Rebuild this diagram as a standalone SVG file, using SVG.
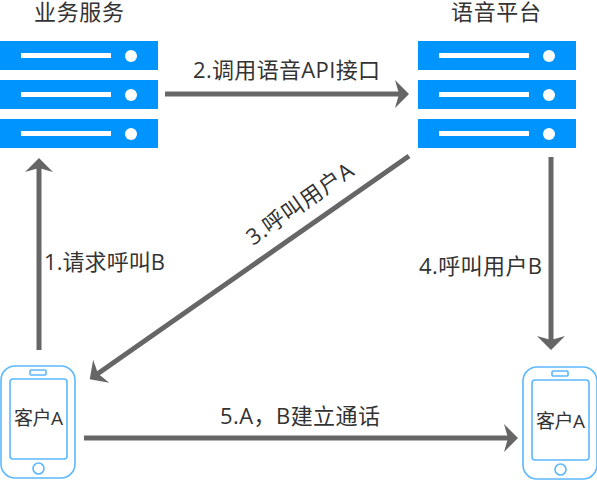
<svg xmlns="http://www.w3.org/2000/svg" width="597" height="480" viewBox="0 0 597 480">
<style>
.t{font-family:"Open Sans","Noto Sans CJK SC",sans-serif;font-size:22px;fill:#333}
.g{font-family:"Liberation Sans","Noto Sans CJK SC",sans-serif;font-size:22px;fill:#333}
.s{font-family:"Open Sans","Noto Sans CJK SC",sans-serif;font-size:19px;fill:#333}
.bar{fill:#0094ff}.ln{fill:#fff}
.body{fill:#fff;stroke:#5cb8ff;stroke-width:1.6}
.c{fill:none;stroke:#666;stroke-width:5}
.h{fill:#666}
</style>
<defs>
<g id="srv">
<rect class="bar" x="0" y="0" width="158" height="29"/><rect class="ln" x="21" y="12" width="90" height="5"/><circle class="ln" cx="131" cy="15" r="6"/>
</g>
<g id="ph">
<rect class="body" x="0" y="0" width="74" height="112" rx="14"/>
<rect class="body" x="9" y="13" width="57" height="80" rx="3"/>
<rect class="body" x="29" y="4" width="16" height="5" rx="1"/>
<circle class="body" cx="37.500" cy="102.500" r="5.500"/>
</g>
<marker id="a" markerUnits="userSpaceOnUse" markerWidth="18" markerHeight="30" refX="10" refY="15" orient="auto" viewBox="0 0 18 30"><path class="h" d="M0 1 L14 15 L0 29 L4 15Z"/></marker>
</defs>
<g id="connectors">
<path class="c" d="M165 94H405" marker-end="url(#a)"/>
<path class="c" d="M39 350V162" marker-end="url(#a)"/>
<path class="c" d="M409 156L93 377" marker-end="url(#a)"/>
<path class="c" d="M551 157V346" marker-end="url(#a)"/>
<path class="c" d="M84 438H514" marker-end="url(#a)"/>
<text class="t" x="193" y="78" textLength="187">2.调用语音API接口</text>
<text class="t" x="44" y="270" textLength="121">1.请求呼叫B</text>
<text class="t" x="419" y="274" textLength="123">4.呼叫用户B</text>
<text class="t" x="220" y="424" textLength="160">5.A，B建立通话</text>
<text class="t" transform="translate(253 246) rotate(-35)" textLength="125">3.呼叫用户A</text>
</g>
<g id="business"><text class="g" x="34" y="20" textLength="90">业务服务</text>
<use href="#srv" y="41"/><use href="#srv" y="80"/><use href="#srv" y="119"/></g>
<g id="voice"><text class="g" x="451" y="20" textLength="90">语音平台</text>
<use href="#srv" x="418" y="41"/><use href="#srv" x="418" y="80"/><use href="#srv" x="418" y="119"/></g>
<g id="clientA"><use href="#ph" x="1" y="366"/><text class="s" x="14" y="425" textLength="49">客户A</text></g>
<g id="clientB"><use href="#ph" x="523" y="367"/><text class="s" x="536" y="428" textLength="49">客户A</text></g>
</svg>
